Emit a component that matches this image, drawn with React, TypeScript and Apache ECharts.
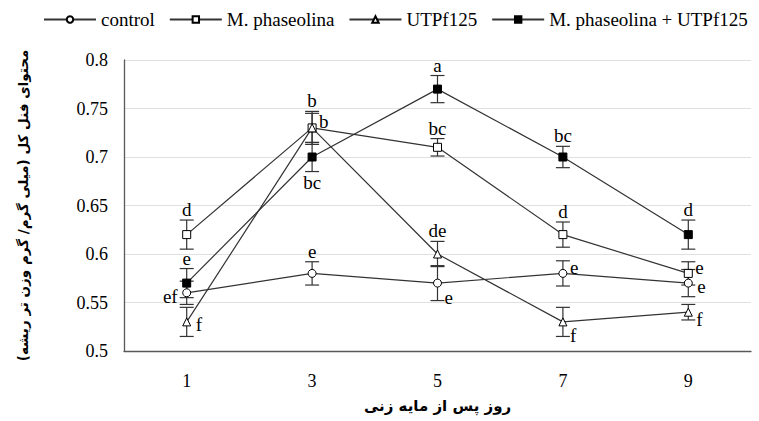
import React, { useEffect, useRef } from "react";
import * as echarts from "echarts";

const days = ["1", "3", "5", "7", "9"];
const seriesNames = ["control", "M. phaseolina", "UTPf125", "M. phaseolina + UTPf125"];

const control = [0.56, 0.58, 0.57, 0.58, 0.57];
const controlErr = [0.012, 0.012, 0.018, 0.013, 0.014];
const mp = [0.62, 0.73, 0.71, 0.62, 0.58];
const mpErr = [0.015, 0.017, 0.009, 0.013, 0.012];
const utp = [0.53, 0.73, 0.6, 0.53, 0.54];
const utpErr = [0.015, 0.015, 0.013, 0.015, 0.008];
const mpu = [0.57, 0.7, 0.77, 0.7, 0.62];
const mpuErr = [0.015, 0.015, 0.014, 0.011, 0.015];

const controlLetters = ["ef", "e", "e", "e", "e"];
const mpLetters = ["d", "b", "bc", "d", "e"];
const utpLetters = ["f", "b", "de", "f", "f"];
const mpuLetters = ["e", "bc", "a", "bc", "d"];

// letter placement codes (style only)
const controlPlace = ["left", "top", "belowRight", "upRight", "right"];
const mpPlace = ["top", "top", "top", "top", "upRight"];
const utpPlace = ["right", "upRight", "top", "belowRight", "downRight"];
const mpuPlace = ["top", "bottom", "top", "top", "top"];

const yTitle = "محتوای فنل کل (میلی گرم/ گرم وزن تر ریشه)";
const xTitle = "روز پس از مایه زنی";

const LINE = "#333333";
const SERIF = "Liberation Serif";

export default function App() {
  const ref = useRef<HTMLDivElement>(null);
  useEffect(() => {
    if (!ref.current) return;
    const chart = echarts.init(ref.current, undefined, { renderer: "svg" });

    const groups = [
      { vals: control, errs: controlErr, letters: controlLetters, place: controlPlace },
      { vals: mp, errs: mpErr, letters: mpLetters, place: mpPlace },
      { vals: utp, errs: utpErr, letters: utpLetters, place: utpPlace },
      { vals: mpu, errs: mpuErr, letters: mpuLetters, place: mpuPlace },
    ];

    const errData: any[] = [];
    const letterItems: any[] = [];
    groups.forEach((g) => {
      g.vals.forEach((v, i) => {
        errData.push([i, v - g.errs[i], v + g.errs[i]]);
        letterItems.push({ cat: i, v, err: g.errs[i], text: g.letters[i], place: g.place[i] });
      });
    });

    const symbols = ["circle", "rect", "triangle", "rect"];
    const fills = ["#fff", "#fff", "#fff", "#000"];
    const lineSeries = groups.map((g, k) => ({
      type: "line",
      name: seriesNames[k],
      data: g.vals,
      symbol: symbols[k],
      symbolSize: 8,
      showAllSymbol: true,
      lineStyle: { color: LINE, width: 1.2 },
      itemStyle: { color: fills[k], borderColor: "#000", borderWidth: 1 },
      z: 4,
    }));

    const option: any = {
      animation: false,
      grid: { left: 124, right: 8, top: 60, bottom: 70, containLabel: false, outerBoundsMode: "none" },
      legend: {
        left: 38,
        top: 5,
        itemWidth: 52,
        itemHeight: 8,
        itemGap: 14,
        data: seriesNames,
        textStyle: { fontFamily: SERIF, fontSize: 19, color: "#000" },
      },
      xAxis: {
        type: "category",
        data: days,
        boundaryGap: true,
        axisLine: { lineStyle: { color: "#595959", width: 1.3 } },
        axisTick: { show: false },
        axisLabel: { fontFamily: SERIF, fontSize: 18, color: "#000", margin: 21 },
        name: xTitle,
        nameLocation: "middle",
        nameGap: 47,
        nameTextStyle: { fontFamily: "DejaVu Sans", fontWeight: "bold", fontSize: 15, color: "#000" },
      },
      yAxis: {
        type: "value",
        min: 0.5,
        max: 0.8,
        interval: 0.05,
        axisLine: { show: true, lineStyle: { color: "#595959", width: 1.3 } },
        axisTick: { show: false },
        splitLine: { lineStyle: { color: "#e0e0e0", width: 1 } },
        axisLabel: {
          fontFamily: SERIF,
          fontSize: 18,
          color: "#000",
          margin: 16,
          formatter: (v: number) => String(+v.toFixed(2)),
        },
        name: yTitle,
        nameLocation: "middle",
        nameRotate: 90,
        nameGap: 94,
        nameTextStyle: { fontFamily: "DejaVu Sans", fontWeight: "bold", fontSize: 13.5, color: "#000" },
      },
      series: [
        {
          type: "custom",
          name: "err",
          data: errData,
          encode: { x: 0, y: [1, 2] },
          clip: false,
          z: 3,
          renderItem: (params: any, api: any) => {
            const x = api.value(0);
            const lo = api.coord([x, api.value(1)]);
            const hi = api.coord([x, api.value(2)]);
            const hw = 7;
            const st = { stroke: LINE, lineWidth: 1.2 };
            return {
              type: "group",
              children: [
                { type: "line", shape: { x1: lo[0], y1: lo[1], x2: hi[0], y2: hi[1] }, style: st },
                { type: "line", shape: { x1: lo[0] - hw, y1: lo[1], x2: lo[0] + hw, y2: lo[1] }, style: st },
                { type: "line", shape: { x1: hi[0] - hw, y1: hi[1], x2: hi[0] + hw, y2: hi[1] }, style: st },
              ],
            };
          },
        },
        ...lineSeries,
        {
          type: "custom",
          name: "letters",
          data: letterItems.map((d) => [d.cat, d.v]),
          encode: { x: 0, y: 1 },
          clip: false,
          z: 5,
          renderItem: (params: any, api: any) => {
            const d = letterItems[params.dataIndex];
            const p = api.coord([d.cat, d.v]);
            const top = api.coord([d.cat, d.v + d.err]);
            const bot = api.coord([d.cat, d.v - d.err]);
            let x = p[0];
            let y = p[1];
            let align = "center";
            let va = "middle";
            switch (d.place) {
              case "top":
                y = top[1] - 1;
                va = "bottom";
                break;
              case "bottom":
                y = bot[1] + 1;
                va = "top";
                break;
              case "left":
                x = p[0] - 9;
                y = p[1] + 4;
                align = "right";
                break;
              case "right":
                x = p[0] + 9;
                y = p[1] + 3;
                align = "left";
                break;
              case "upRight":
                x = p[0] + 7;
                y = p[1] - 6;
                align = "left";
                break;
              case "downRight":
                x = p[0] + 8;
                y = p[1] + 7;
                align = "left";
                break;
              case "belowRight":
                x = p[0] + 7;
                y = p[1] + 14;
                align = "left";
                break;
            }
            return {
              type: "text",
              x,
              y,
              style: {
                text: d.text,
                fill: "#000",
                fontFamily: SERIF,
                fontSize: 19,
                align,
                verticalAlign: va,
              },
            };
          },
        },
      ],
    };
    chart.setOption(option);
    return () => chart.dispose();
  }, []);

  return (
    <div
      ref={ref}
      style={{ position: "fixed", left: 0, top: 0, width: 759, height: 421, background: "#fff" }}
    />
  );
}
